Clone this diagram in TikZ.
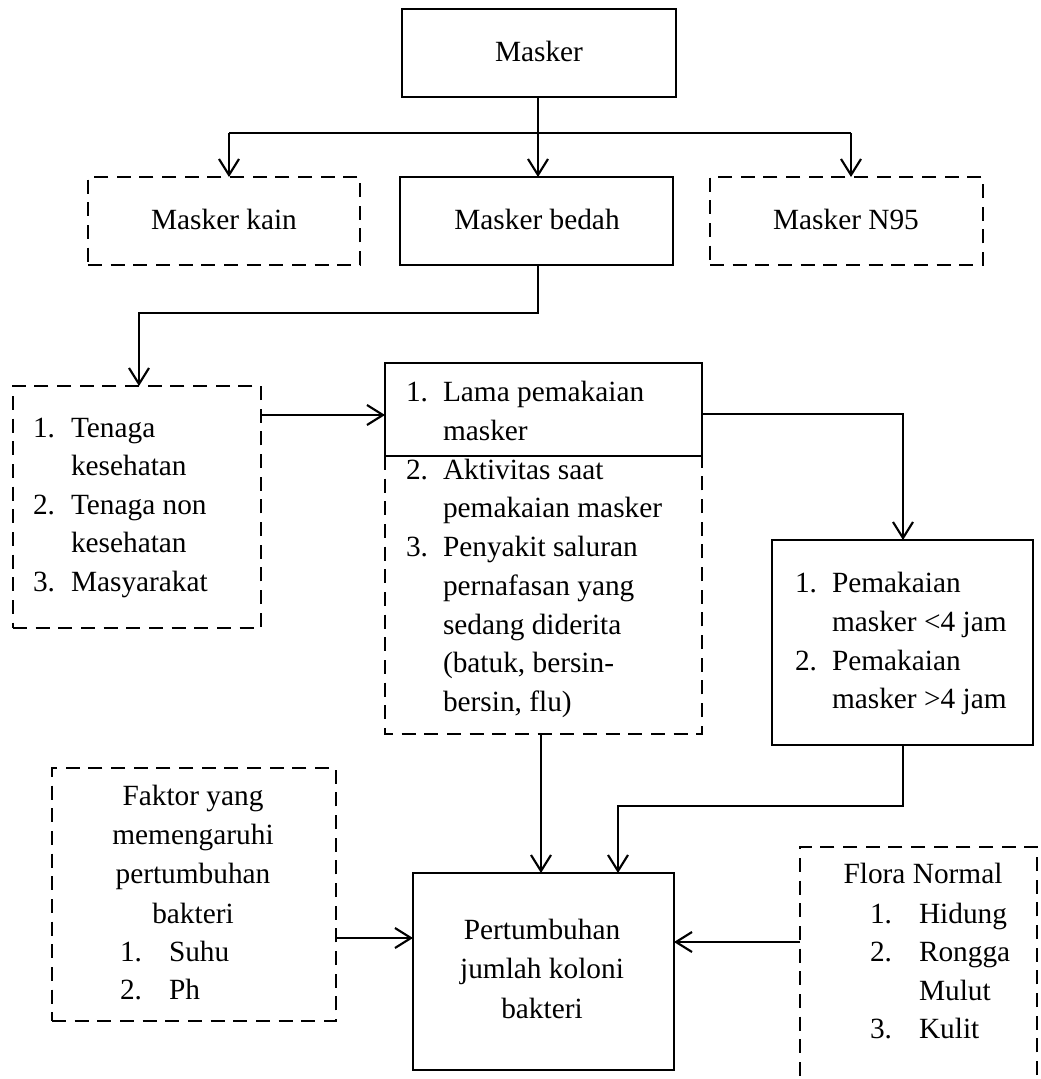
\documentclass[tikz,border=0pt]{standalone}
\usepackage{fontspec}
\setmainfont{Liberation Serif}
\usetikzlibrary{arrows.meta}
\tikzset{
  bx/.style 2 args={minimum width=#1*0.75pt, minimum height=#2*0.75pt, inner sep=0pt, outer sep=0pt},
  solidbox/.style={draw, line width=2.2pt},
  dashbox/.style={draw, line width=2.2pt, dash pattern=on 10.5pt off 6.5pt},
  dashline/.style={line width=2.2pt, dash pattern=on 10.5pt off 6.5pt},
  txt/.style={font=\fontsize{22}{26}\selectfont, inner sep=0pt, outer sep=0pt},
  conn/.style={line width=1.6pt},
  arr/.style={line width=1.6pt, -{Straight Barb[length=12pt,width=15pt,line width=1.6pt]}},
}
\begin{document}
\begin{tikzpicture}[x=0.75pt,y=-0.75pt]
\clip (0,0) rectangle (1041,1079);
\useasboundingbox (0,0) rectangle (1041,1079);
% boxes
\node[solidbox, bx={274}{88}] (masker) at (539,53) {};
\node[dashbox, bx={272}{88}] (kain) at (224,221) {};
\node[solidbox, bx={273}{88}] (bedah) at (536.5,221) {};
\node[dashbox, bx={273}{88}] (n95) at (846.5,221) {};
\node[dashbox, bx={248}{242}] (tenaga) at (137,507) {};
\node[solidbox, bx={317}{93}] (mtop) at (543.5,409.5) {};
\node[bx={317}{278}] (mbot) at (543.5,595) {};
\draw[dashline] (mbot.north west) -- (mbot.south west) -- (mbot.south east) -- (mbot.north east);
\node[solidbox, bx={261}{205}] (rbox) at (902.5,642.5) {};
\node[solidbox, bx={261}{197}] (pert) at (543.5,971.5) {};
\node[dashbox, bx={284}{253}] (faktor) at (194,894.5) {};
\node[dashbox, bx={237}{263}] (flora) at (918.5,978.5) {};
% texts
\node[txt, anchor=base] (tmasker) at (539,61) {Masker};
\node[txt, anchor=base] (tkain) at (224,229) {Masker kain};
\node[txt, anchor=base] (tbedah) at (537,229) {Masker bedah};
\node[txt, anchor=base] (tn95) at (846,229) {Masker N95};
% tenaga list
\node[txt, anchor=base west] (ta1) at (33,437) {1.};
\node[txt, anchor=base west] (ta2) at (71,437) {Tenaga};
\node[txt, anchor=base west] (ta3) at (71,475) {kesehatan};
\node[txt, anchor=base west] (ta4) at (33,514) {2.};
\node[txt, anchor=base west] (ta5) at (71,514) {Tenaga non};
\node[txt, anchor=base west] (ta6) at (71,552) {kesehatan};
\node[txt, anchor=base west] (ta7) at (33,591) {3.};
\node[txt, anchor=base west] (ta8) at (71,591) {Masyarakat};
% middle list
\node[txt, anchor=base west] (mb1) at (406,401) {1.};
\node[txt, anchor=base west] (mb2) at (443,401) {Lama pemakaian};
\node[txt, anchor=base west] (mb3) at (443,440) {masker};
\node[txt, anchor=base west] (mb4) at (406,479) {2.};
\node[txt, anchor=base west] (mb5) at (443,479) {Aktivitas saat};
\node[txt, anchor=base west] (mb6) at (443,517) {pemakaian masker};
\node[txt, anchor=base west] (mb7) at (406,556) {3.};
\node[txt, anchor=base west] (mb8) at (443,556) {Penyakit saluran};
\node[txt, anchor=base west] (mb9) at (443,595) {pernafasan yang};
\node[txt, anchor=base west] (mb10) at (443,634) {sedang diderita};
\node[txt, anchor=base west] (mb11) at (443,672) {(batuk, bersin-};
\node[txt, anchor=base west] (mb12) at (443,711) {bersin, flu)};
% right list
\node[txt, anchor=base west] (rb1) at (795,592) {1.};
\node[txt, anchor=base west] (rb2) at (832,592) {Pemakaian};
\node[txt, anchor=base west] (rb3) at (832,631) {masker <4 jam};
\node[txt, anchor=base west] (rb4) at (795,670) {2.};
\node[txt, anchor=base west] (rb5) at (832,670) {Pemakaian};
\node[txt, anchor=base west] (rb6) at (832,708) {masker >4 jam};
% faktor
\node[txt, anchor=base] (fk1) at (193,805) {Faktor yang};
\node[txt, anchor=base] (fk2) at (193,844) {memengaruhi};
\node[txt, anchor=base] (fk3) at (193,883) {pertumbuhan};
\node[txt, anchor=base] (fk4) at (193,923) {bakteri};
\node[txt, anchor=base west] (fk5) at (120,961) {1.};
\node[txt, anchor=base west] (fk6) at (169,961) {Suhu};
\node[txt, anchor=base west] (fk7) at (120,999) {2.};
\node[txt, anchor=base west] (fk8) at (169,999) {Ph};
% pertumbuhan
\node[txt, anchor=base] (pt1) at (542,939) {Pertumbuhan};
\node[txt, anchor=base] (pt2) at (542,978) {jumlah koloni};
\node[txt, anchor=base] (pt3) at (542,1018) {bakteri};
% flora
\node[txt, anchor=base] (fl1) at (923,883) {Flora Normal};
\node[txt, anchor=base west] (fl2) at (870,923) {1.};
\node[txt, anchor=base west] (fl3) at (919,923) {Hidung};
\node[txt, anchor=base west] (fl4) at (870,961) {2.};
\node[txt, anchor=base west] (fl5) at (919,961) {Rongga};
\node[txt, anchor=base west] (fl6) at (919,1000) {Mulut};
\node[txt, anchor=base west] (fl7) at (870,1038) {3.};
\node[txt, anchor=base west] (fl8) at (919,1038) {Kulit};
% connectors
\coordinate (br) at (538,133);
\coordinate (brl) at (229,133);
\coordinate (brr) at (851,133);
\draw[conn] (masker.south -| br) -- (br);
\draw[conn] (brl) -- (brr);
\draw[arr] (brl) -- (brl |- kain.north);
\draw[arr] (br) -- (br |- bedah.north);
\draw[arr] (brr) -- (brr |- n95.north);
\coordinate (b1) at (538,313);
\coordinate (b2) at (139,313);
\draw[arr] (bedah.south -| b1) -- (b1) -- (b2) -- (b2 |- tenaga.north);
\coordinate (ty) at (0,415);
\draw[arr] (tenaga.east |- ty) -- (mtop.west |- ty);
\coordinate (r1) at (903,414);
\draw[arr] (mtop.east |- r1) -- (r1) -- (r1 |- rbox.north);
\coordinate (r2) at (903,806);
\coordinate (r3) at (618,806);
\draw[arr] (rbox.south -| r2) -- (r2) -- (r3) -- (r3 |- pert.north);
\coordinate (mx) at (541,0);
\draw[arr] (mbot.south -| mx) -- (pert.north -| mx);
\coordinate (fy) at (0,938);
\draw[arr] (faktor.east |- fy) -- (pert.west |- fy);
\coordinate (gy) at (0,942);
\draw[arr] (flora.west |- gy) -- (pert.east |- gy);
\end{tikzpicture}
\end{document}
